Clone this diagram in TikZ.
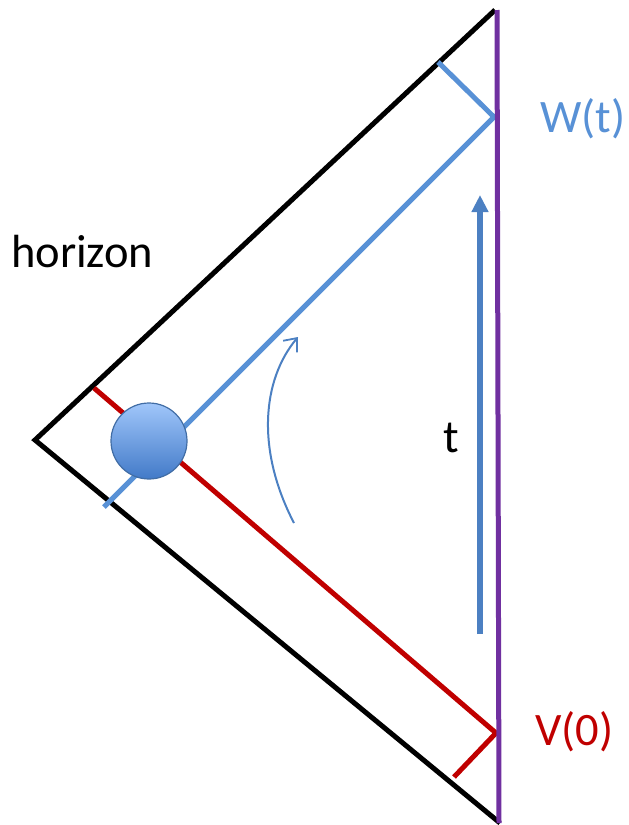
\documentclass[tikz,border=0pt]{standalone}
\usepackage{fontspec}
\setmainfont{Carlito}
\usetikzlibrary{arrows.meta}
\definecolor{lblue}{RGB}{88,145,214}
\definecolor{dblue}{RGB}{76,128,194}
\definecolor{dred}{RGB}{192,0,0}
\definecolor{purp}{RGB}{112,48,160}
\begin{document}
\begin{tikzpicture}[x=1pt,y=-1pt,
  thick line/.style={line width=5pt},
  lbl/.style={inner sep=0pt,anchor=base west,font=\fontsize{46.5}{54}\selectfont}]
\useasboundingbox (0,0) rectangle (629,825);
\coordinate (top) at (495,10);
\coordinate (left) at (35,440);
\coordinate (bot) at (500,823);
\coordinate (ptop) at (497,10);
\coordinate (pbot) at (499,823);
\coordinate (bs) at (438,62);
\coordinate (W) at (494,117);
\coordinate (be) at (104,507);
\coordinate (rs) at (94,388);
\coordinate (V) at (496,733);
\coordinate (re) at (454,777);
\coordinate (as) at (480,634);
\coordinate (ae) at (480,195);
\coordinate (cs) at (294,523);
\coordinate (ce) at (298,337);
% horizon
\draw[thick line,black,line join=miter] (top) -- (left) -- (bot);
% blue
\draw[thick line,lblue] (bs) -- (W) -- (be);
% red
\draw[thick line,dred] (rs) -- (V) -- (re);
% purple boundary
\draw[line width=5pt,purp] (ptop) -- (pbot);
% ball
\node[circle,minimum size=76pt,inner sep=0pt,draw=dblue!85!black,line width=1.2pt,
  top color={rgb,255:red,160;green,198;blue,250},bottom color={rgb,255:red,66;green,122;blue,200}] (ball) at (149,441) {};
% time arrow
\draw[line width=6pt,dblue,-{Triangle[length=17pt,width=16pt]}] (as) -- (ae);
% curved arrow
\draw[line width=2pt,dblue,-{Straight Barb[length=11pt,width=18pt,line width=1.8pt]}] (cs) .. controls (256,450) and (262,380) .. (ce);
% labels
\node[lbl] (hor) at (11,267) {horizon};
\node[lbl] (tl) at (443,452) {t};
\node[lbl,text=dred] (vl) at (535,745) {V(0)};
\node[lbl,text=lblue] (wl) at (540,132) {W(t)};
\end{tikzpicture}
\end{document}
